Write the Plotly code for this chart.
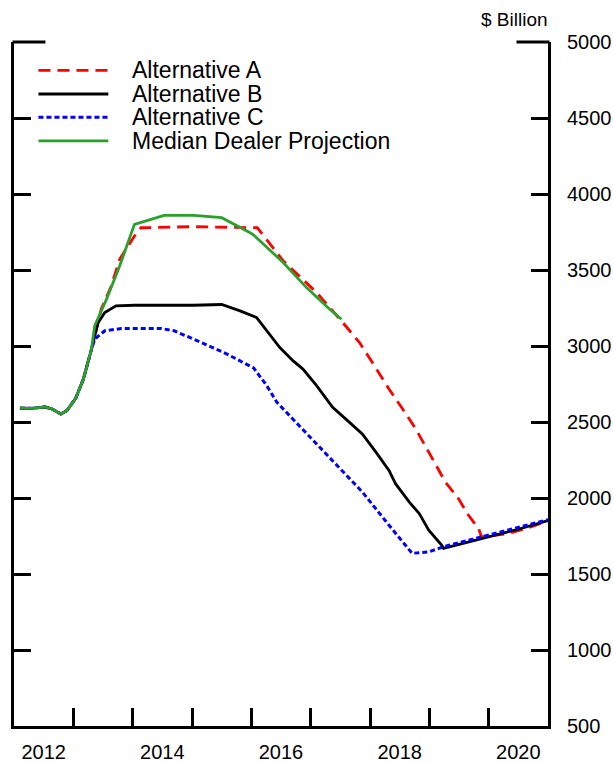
import plotly.graph_objects as go

# values (decimal years, $ billion)
hist_x = [2012.1, 2012.3, 2012.52, 2012.64, 2012.79, 2012.89, 2013.04, 2013.17, 2013.3]
hist_y = [2591, 2590, 2599, 2586, 2553, 2575, 2656, 2783, 2969]

alt_a_x = [2013.47, 2013.64, 2013.78, 2014.03, 2014.14, 2015.0, 2016.1, 2016.54, 2016.87,
           2017.1, 2017.54, 2017.82, 2018.04, 2018.32, 2018.55, 2018.77, 2018.99, 2019.27,
           2019.49, 2019.66, 2019.83, 2019.88, 2020.33, 2020.66, 2021.0]
alt_a_y = [3242, 3395, 3570, 3723, 3778, 3785, 3778, 3559, 3439,
           3352, 3155, 3024, 2892, 2717, 2586, 2455, 2302, 2105,
           1996, 1886, 1799, 1744, 1766, 1803, 1850]

alt_b_x = [2013.42, 2013.53, 2013.72, 2014.03, 2015.03, 2015.5, 2015.81, 2016.09, 2016.26,
           2016.48, 2016.71, 2016.87, 2017.1, 2017.37, 2017.65, 2017.87, 2018.1, 2018.32,
           2018.43, 2018.66, 2018.83, 2018.99, 2019.21, 2019.24, 2019.88, 2020.44, 2021.0]
alt_b_y = [3155, 3220, 3264, 3268, 3268, 3273, 3231, 3187, 3100,
           2990, 2900, 2848, 2739, 2597, 2499, 2422, 2302, 2181,
           2094, 1974, 1897, 1788, 1689, 1668, 1733, 1788, 1852]

alt_c_x = [2013.36, 2013.53, 2013.81, 2014.48, 2014.7, 2015.15, 2015.59, 2016.04, 2016.26,
           2016.43, 2016.99, 2017.43, 2017.87, 2018.32, 2018.6, 2018.71, 2018.99, 2019.24,
           2019.88, 2020.44, 2021.0]
alt_c_y = [3045, 3100, 3115, 3115, 3100, 3024, 2947, 2855, 2739,
           2630, 2400, 2214, 2040, 1821, 1689, 1636, 1646, 1679,
           1744, 1799, 1858]

dealer_x = [2013.36, 2013.56, 2013.78, 2014.03, 2014.2, 2014.53, 2015.03, 2015.5, 2015.98,
            2016.04, 2016.54, 2016.93, 2017.32, 2017.52]
dealer_y = [3133, 3308, 3526, 3800, 3821, 3859, 3859, 3844, 3745,
            3730, 3548, 3384, 3242, 3176]

year_ticks = [2013, 2014, 2015, 2016, 2017, 2018, 2019, 2020]
year_label_pos = [2012.5, 2014.5, 2016.5, 2018.5, 2020.5]
year_labels = ["2012", "2014", "2016", "2018", "2020"]
y_ticks = [500, 1000, 1500, 2000, 2500, 3000, 3500, 4000, 4500, 5000]

FONT = "Liberation Sans, Arial, sans-serif"

fig = go.Figure()

series = [
    ("Alternative A", alt_a_x, alt_a_y, dict(color="#ff0000", width=2.8, dash="12px,7px")),
    ("Alternative B", alt_b_x, alt_b_y, dict(color="#000000", width=2.8)),
    ("Alternative C", alt_c_x, alt_c_y, dict(color="#0000ff", width=3, dash="5px,3px")),
    ("Median Dealer Projection", dealer_x, dealer_y, dict(color="#2ca02c", width=2.8)),
]

for name, xs, ys, line in series:
    fig.add_trace(go.Scatter(
        x=hist_x + xs,
        y=hist_y + ys,
        mode="lines",
        name=name,
        line=line,
        showlegend=False,
    ))

# hand-made legend (tight rows like the reference)
legend_rows = [0.9585, 0.9240, 0.8900, 0.8555]
shapes = []
annotations = []
for (name, _, _, line), yy in zip(series, legend_rows):
    shapes.append(dict(type="line", xref="paper", yref="paper",
                       x0=0.0458, x1=0.1766, y0=yy, y1=yy, line=line))
    annotations.append(dict(text=name, xref="paper", yref="paper", x=0.2178, y=yy,
                            xanchor="left", yanchor="middle", showarrow=False,
                            font=dict(size=23, color="black", family=FONT)))

# top corner segments of the frame
shapes.append(dict(type="line", xref="paper", yref="paper", x0=-0.0028, x1=0.0589, y0=1, y1=1,
                   line=dict(color="black", width=3)))
shapes.append(dict(type="line", xref="paper", yref="paper", x0=0.941, x1=1.0028, y0=1, y1=1,
                   line=dict(color="black", width=3)))

annotations.append(dict(text="$ Billion", xref="paper", yref="paper", x=1.003, y=1.0336,
                        xanchor="right", yanchor="middle", showarrow=False,
                        font=dict(size=19, color="black", family=FONT)))

# invisible traces that carry the label axes
fig.add_trace(go.Scatter(x=[2012, 2021], y=[None, None], xaxis="x2", showlegend=False,
                         hoverinfo="skip"))
fig.add_trace(go.Scatter(x=[None, None], y=[500, 5000], yaxis="y2", showlegend=False,
                         hoverinfo="skip"))

fig.update_layout(
    width=613, height=763,
    margin=dict(l=13.5, r=64.5, t=42, b=36.5),
    paper_bgcolor="white", plot_bgcolor="white",
    font=dict(family=FONT, color="black"),
    xaxis=dict(
        range=[2012, 2021], tickvals=year_ticks, showticklabels=False,
        ticks="inside", ticklen=18, tickwidth=2.5, tickcolor="black", automargin=False,
        showline=True, linewidth=3, linecolor="black", showgrid=False, zeroline=False,
    ),
    xaxis2=dict(
        range=[2012, 2021], overlaying="x", side="bottom",
        tickvals=year_label_pos, ticktext=year_labels, automargin=False,
        ticks="", showgrid=False, zeroline=False, showline=False,
        tickfont=dict(size=20, family=FONT, color="black"),
        ticklabelstandoff=12,
    ),
    yaxis=dict(
        range=[500, 5000], tickvals=y_ticks, showticklabels=False,
        ticks="inside", ticklen=17, tickwidth=2.5, tickcolor="black", automargin=False,
        showline=True, linewidth=3, linecolor="black", showgrid=False, zeroline=False,
    ),
    yaxis2=dict(
        range=[500, 5000], overlaying="y", side="right", tickvals=y_ticks,
        ticks="inside", ticklen=17, tickwidth=2.5, tickcolor="black", automargin=False,
        showline=True, linewidth=3, linecolor="black", showgrid=False, zeroline=False,
        tickfont=dict(size=20, family=FONT, color="black"),
        ticklabelstandoff=12,
    ),
    shapes=shapes,
    annotations=annotations,
)

# drop the browser's default page margin so the 613x763 figure fills the window exactly
fig.write_html("out.html", config={"displayModeBar": False},
               post_script="document.body.style.margin='0';")
